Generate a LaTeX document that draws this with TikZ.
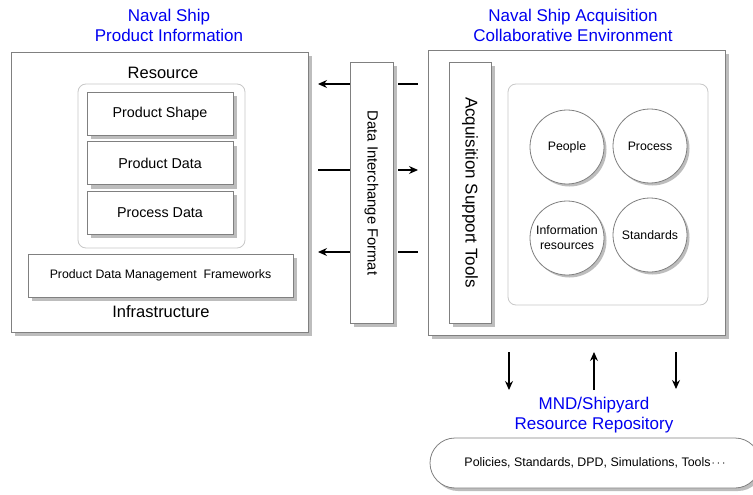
\documentclass[tikz,border=0pt]{standalone}
\usepackage{fontspec}
\setmainfont{Liberation Sans}
\usetikzlibrary{shadows,arrows.meta}
\definecolor{bordergray}{HTML}{808080}
\definecolor{shadowgray}{HTML}{BDBDBD}
\definecolor{lightgray}{HTML}{C8C8C8}
\definecolor{titleblue}{HTML}{0000F0}
\tikzset{
  shbox/.style={draw=bordergray, line width=0.8pt, fill=white, rectangle,
    general shadow={fill=shadowgray, shadow xshift=4pt, shadow yshift=-4pt}},
  roundbox/.style={draw=lightgray, line width=0.8pt, fill=white, rounded corners=8pt, rectangle},
  circ/.style={draw=bordergray, line width=0.8pt, fill=white, circle, minimum size=74pt, inner sep=0pt, align=center,
    general shadow={fill=shadowgray, shadow xshift=2.5pt, shadow yshift=-2.5pt}},
  ttl/.style={text=titleblue, font=\fontsize{17}{20}\selectfont, align=center},
  lbl/.style={font=\fontsize{16.5}{19}\selectfont},
  arr/.style={-{Stealth[length=9pt,width=8pt]}, line width=1.2pt},
  ln/.style={line width=1.2pt}
}
\begin{document}
\begin{tikzpicture}[x=1pt,y=-1pt]
\useasboundingbox (0,0) rectangle (753,495);
\clip (0,0) rectangle (753,495);
% titles
\node[ttl] (t1) at (169,25) {Naval Ship\\Product Information};
\node[ttl] (t2) at (573,25) {Naval Ship Acquisition\\Collaborative Environment};
% left box
\node[shbox, minimum width=297pt, minimum height=280pt] (left) at (159.5,192) {};
\node[lbl] (res) at (163,73) {Resource};
\node[roundbox, minimum width=167pt, minimum height=164pt] (inner) at (161.5,166) {};
\node[shbox, minimum width=146pt, minimum height=43pt, font=\fontsize{14.3}{17}\selectfont] (ps) at (160,113.5) {Product Shape};
\node[shbox, minimum width=146pt, minimum height=43pt, font=\fontsize{14.3}{17}\selectfont] (pd) at (160,163) {Product Data};
\node[shbox, minimum width=146pt, minimum height=43pt, font=\fontsize{14.3}{17}\selectfont] (prd) at (160,212.5) {Process Data};
\node[shbox, minimum width=265pt, minimum height=43pt, font=\fontsize{12.3}{15}\selectfont] (pdm) at (160.5,275.5) {Product Data Management\ \ Frameworks};
\node[lbl] (infra) at (161,312) {Infrastructure};
% data interchange format
\node[shbox, minimum width=43pt, minimum height=261pt] (dif) at (371.5,192.5) {};
\node[rotate=-90, font=\fontsize{14.8}{17}\selectfont] (diftxt) at (371.5,193) {Data Interchange Format};
% right box
\node[shbox, minimum width=297pt, minimum height=285pt] (right) at (576.5,192.5) {};
\node[shbox, minimum width=42pt, minimum height=261pt] (ast) at (470,192.5) {};
\node[rotate=-90, font=\fontsize{17}{20}\selectfont] (asttxt) at (470,192.5) {Acquisition Support Tools};
\node[roundbox, minimum width=200pt, minimum height=221pt] (inner2) at (608,194.5) {};
\node[circ, font=\fontsize{12.3}{15}\selectfont] (people) at (567,147) {People};
\node[circ, font=\fontsize{12.3}{15}\selectfont] (process) at (650,146) {Process};
\node[circ, font=\fontsize{12.3}{15}\selectfont] (info) at (567,238) {Information\\resources};
\node[circ, font=\fontsize{12.3}{15}\selectfont] (std) at (650,235) {Standards};
% arrows between left box and right box
\coordinate (a1l) at (318,84);
\coordinate (a2l) at (318,170);
\coordinate (a3l) at (318,252);
\coordinate (a1r) at (418,84);
\coordinate (a2r) at (418,170);
\coordinate (a3r) at (418,252);
\draw[arr] (dif.west |- a1l) -- (a1l);
\draw[ln] ([xshift=5pt]dif.east |- a1r) -- (a1r);
\draw[ln] (a2l) -- (dif.west |- a2l);
\draw[arr] ([xshift=5pt]dif.east |- a2r) -- (a2r);
\draw[arr] (dif.west |- a3l) -- (a3l);
\draw[ln] ([xshift=5pt]dif.east |- a3r) -- (a3r);
% repository
\node[ttl] (mnd) at (594,415) {MND/Shipyard\\Resource Repository};
\coordinate (d1t) at (509,352);
\coordinate (d1b) at (509,390);
\coordinate (d2t) at (594,352);
\coordinate (d2b) at (594,390);
\coordinate (d3t) at (676,352);
\coordinate (d3b) at (676,389);
\draw[arr] (d1t) -- (d1b);
\draw[arr] (d2b) -- (d2t);
\draw[arr] (d3t) -- (d3b);
\node[draw=bordergray, line width=0.8pt, fill=white, rounded corners=25pt, minimum width=330pt, minimum height=50pt,
  general shadow={fill=shadowgray, shadow xshift=3pt, shadow yshift=-3pt},
  font=\fontsize{12.4}{15}\selectfont] (pill) at (595,463) {Policies, Standards, DPD, Simulations, Tools\kern1pt$\cdots$};
\end{tikzpicture}
\end{document}
